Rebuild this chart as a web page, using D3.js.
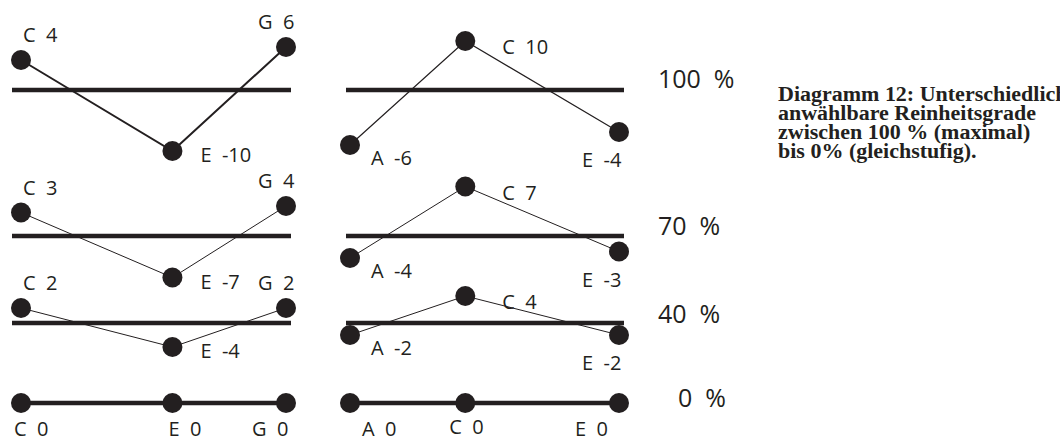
<!DOCTYPE html>
<html>
<head>
<meta charset="utf-8">
<script src="https://cdn.jsdelivr.net/npm/d3@7"></script>
<style>
  body { margin: 0; background: #fff; }
  svg text { white-space: pre; }
</style>
</head>
<body>
<div id="chart"></div>
<script>
// purity levels (rows, top to bottom)
const levels = [100, 70, 40, 0];
const levelLabels = ["100  %", "70  %", "40  %", "0  %"];

// left triad C-E-G: note names, semitones above C, cent deviation per level
const leftNotes = ["C", "E", "G"];
const leftSemis = [0, 4, 7];
const leftCents = [[4, -10, 6], [3, -7, 4], [2, -4, 2], [0, 0, 0]];

// right triad A-C-E
const rightNotes = ["A", "C", "E"];
const rightSemis = [-3, 0, 4];
const rightCents = [[-6, 10, -4], [-4, 7, -3], [-2, 4, -2], [0, 0, 0]];

const captionLines = [
  "Diagramm 12: Unterschiedlich",
  "anwählbare Reinheitsgrade",
  "zwischen 100 % (maximal)",
  "bis 0% (gleichstufig)."
];

const width = 1060, height = 439;
const ink = "#231f20";

const svg = d3.select("#chart").append("svg")
    .attr("width", width)
    .attr("height", height)
    .style("font-family", "'Open Sans', sans-serif");

var rowY = d3.scaleOrdinal().domain(levels).range([90, 236, 323, 403]);
var centY = d3.scaleLinear().domain([-10, 10]).range([65, -65]); // offset from row line

var panels = [
  { notes: leftNotes, semis: leftSemis, cents: leftCents,
    x: d3.scaleLinear().domain([0, 7]).range([21, 286]), pad: [9, 5],
    stroke: [2, 1, 1, 4],
    shift: [4, 4, 2, 0], // the hand drawn curves sit a bit off the line
    lab: { C: [2, -18], E: [28, 11], G: [-28, -18] },
    lab0: { C: [-7, 33], E: [-4, 33], G: [-34, 33] } },
  { notes: rightNotes, semis: rightSemis, cents: rightCents,
    x: d3.scaleLinear().domain([-3, 4]).range([350, 619]), pad: [4, 5],
    stroke: [1.2, 1, 1, 4],
    shift: [-16, 4, 1, 0],
    lab: { A: [21, 20], C: [37, 13], E: [-37, 35] },
    lab0: { A: [12, 33], C: [-16, 31], E: [-44, 33] } }
];

panels.forEach(function(p) {
  var xs = p.x;
  levels.forEach(function(lv, i) {
    var y0 = rowY(lv);
    var pts = p.notes.map(function(n, j) {
      return { note: n, cent: p.cents[i][j], x: xs(p.semis[j]),
               y: y0 + centY(p.cents[i][j]) - p.shift[i] };
    });
    var g = svg.append("g");

    // reference line (equal temperament)
    g.append("line")
      .attr("x1", xs(p.semis[0]) - p.pad[0])
      .attr("x2", xs(p.semis[p.semis.length - 1]) + p.pad[1])
      .attr("y1", y0).attr("y2", y0)
      .attr("stroke", ink).attr("stroke-width", 4.5);

    // connecting polyline
    g.append("path")
      .attr("d", d3.line().x(function(d) { return d.x; }).y(function(d) { return d.y; })(pts))
      .attr("fill", "none")
      .attr("stroke", ink)
      .attr("stroke-width", p.stroke[i]);

    g.selectAll("circle").data(pts).enter().append("circle")
      .attr("cx", function(d) { return d.x; })
      .attr("cy", function(d) { return d.y; })
      .attr("r", 10)
      .attr("fill", ink);

    var offs = lv === 0 ? p.lab0 : p.lab;
    g.selectAll("text").data(pts).enter().append("text")
      .attr("x", function(d) { return d.x + offs[d.note][0]; })
      .attr("y", function(d) { return lv === 0 ? y0 + offs[d.note][1] : d.y + offs[d.note][1]; })
      .attr("font-size", 20)
      .attr("fill", ink)
      .text(function(d) { return d.note + "  " + d.cent; });
  });
});

// percentage labels
svg.selectAll(".pct").data(levels).enter().append("text")
  .attr("class", "pct")
  .attr("x", function(d) { return d === 0 ? 678 : 658; })
  .attr("y", function(d, i) { return rowY(d) + [-2, -1, 0, 4][i]; })
  .attr("font-size", 25)
  .attr("fill", ink)
  .text(function(d, i) { return levelLabels[i]; });

// caption (serif, slightly wide)
svg.append("g")
  .attr("transform", "translate(778,0) scale(1.1,1)")
  .append("text")
  .attr("y", 101)
  .style("font-family", "'Liberation Serif', 'Times New Roman', serif")
  .attr("font-weight", "bold")
  .attr("font-size", 20)
  .attr("fill", ink)
  .selectAll("tspan").data(captionLines).enter().append("tspan")
    .attr("x", 0)
    .attr("dy", function(d, i) { return i ? 19 : 0; })
    .text(function(d) { return d; });
</script>
</body>
</html>
